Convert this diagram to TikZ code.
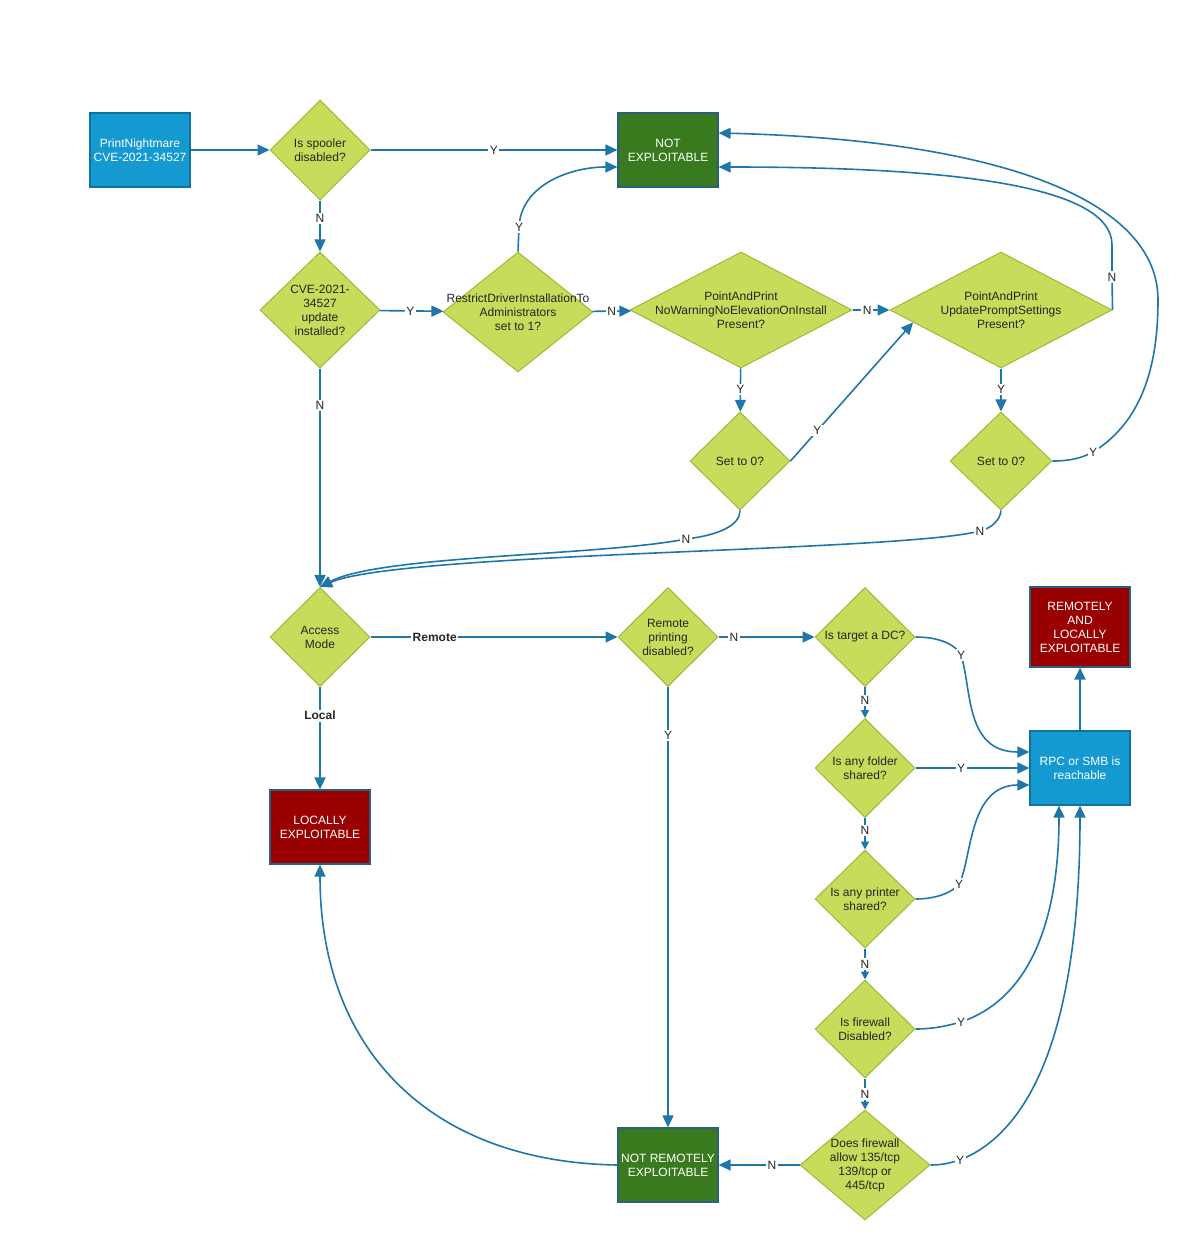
\documentclass[tikz,border=0pt]{standalone}
\usepackage{fontspec}
\setmainfont{Liberation Sans}
\usetikzlibrary{shapes.geometric,arrows.meta,calc}
\definecolor{ln}{HTML}{1F77A9}
\definecolor{bluebox}{HTML}{1499D0}
\definecolor{bluebd}{HTML}{10739E}
\definecolor{greenbox}{HTML}{3A7A1F}
\definecolor{redbox}{HTML}{990000}
\definecolor{boxbd}{HTML}{2B5F80}
\definecolor{dfill}{HTML}{C6DC5A}
\definecolor{dborder}{HTML}{9DBA3A}
\begin{document}
\begin{tikzpicture}[x=1pt,y=-1pt,
  conn/.style={draw=ln, line width=1.6pt, -{Triangle[length=12pt,width=11pt]}},
  sconn/.style={draw=ln, line width=1.6pt, -{Triangle[length=8pt,width=8pt]}},
  dia/.style={diamond, draw=dborder, fill=dfill, line width=1pt, inner sep=0pt},
  dtxt/.style={font=\fontsize{12}{14}\selectfont, align=center, text=black!85, inner sep=0pt},
  box/.style={rectangle, line width=1.2pt, minimum width=100pt, minimum height=74pt, text=white,
    font=\fontsize{12}{14}\selectfont, align=center, inner sep=1pt},
  lbl/.style={fill=white, inner sep=1.5pt, font=\fontsize{12}{14}\selectfont, text=black!85},
  blbl/.style={lbl, font=\fontsize{12}{14}\selectfont\bfseries},
]
\useasboundingbox (0,0) rectangle (1192,1241);

% boxes
\node[box, fill=bluebox, draw=bluebd] (pn) at (140,150) {PrintNightmare\\CVE-2021-34527};
\node[box, fill=greenbox, draw=boxbd] (ne) at (668,150) {NOT\\EXPLOITABLE};
\node[box, fill=redbox, draw=boxbd, minimum height=80pt] (rl) at (1080,627) {REMOTELY\\AND\\LOCALLY\\EXPLOITABLE};
\node[box, fill=bluebox, draw=bluebd] (rpc) at (1080,768) {RPC or SMB is\\reachable};
\node[box, fill=redbox, draw=boxbd] (le) at (320,827) {LOCALLY\\EXPLOITABLE};
\node[box, fill=greenbox, draw=boxbd] (nr) at (668,1165) {NOT REMOTELY\\EXPLOITABLE};

% diamonds
\node[dia, minimum width=100pt, minimum height=100pt] (sp) at (320,150) {};
\node[dtxt] (spt) at (sp) {Is spooler\\disabled?};
\node[dia, minimum width=120pt, minimum height=116pt] (cve) at (320,310) {};
\node[dtxt] (cvet) at (cve) {CVE-2021-\\34527\\update\\installed?};
\node[dia, minimum width=150pt, minimum height=120pt] (rd) at (518,312) {};
\node[dtxt] (rdt) at (rd) {RestrictDriverInstallationTo\\Administrators\\set to 1?};
\node[dia, minimum width=222pt, minimum height=116pt] (pp1) at (741,310) {};
\node[dtxt] (pp1t) at (pp1) {PointAndPrint\\NoWarningNoElevationOnInstall\\Present?};
\node[dia, minimum width=222pt, minimum height=116pt] (pp2) at (1001,310) {};
\node[dtxt] (pp2t) at (pp2) {PointAndPrint\\UpdatePromptSettings\\Present?};
\node[dia, minimum width=100pt, minimum height=98pt] (s0l) at (740,461) {};
\node[dtxt] (s0lt) at (s0l) {Set to 0?};
\node[dia, minimum width=102pt, minimum height=98pt] (s0r) at (1001,461) {};
\node[dtxt] (s0rt) at (s0r) {Set to 0?};
\node[dia, minimum width=100pt, minimum height=99pt] (am) at (320,637) {};
\node[dtxt] (amt) at (am) {Access\\Mode};
\node[dia, minimum width=100pt, minimum height=99pt] (rp) at (668,637) {};
\node[dtxt] (rpt) at (rp) {Remote\\printing\\disabled?};
\node[dia, minimum width=100pt, minimum height=99pt] (dc) at (865,637) {};
\node[dtxt] (dct) at (dc) {Is target a DC?};
\node[dia, minimum width=100pt, minimum height=99pt] (fo) at (865,768) {};
\node[dtxt] (fot) at (fo) {Is any folder\\shared?};
\node[dia, minimum width=100pt, minimum height=98pt] (pr) at (865,899) {};
\node[dtxt] (prt) at (pr) {Is any printer\\shared?};
\node[dia, minimum width=100pt, minimum height=98pt] (fw) at (865,1029) {};
\node[dtxt] (fwt) at (fw) {Is firewall\\Disabled?};
\node[dia, minimum width=130pt, minimum height=110pt] (al) at (865,1165) {};
\node[dtxt] (alt) at (al) {Does firewall\\allow 135/tcp\\139/tcp or\\445/tcp};

% connectors
\draw[conn] (pn) -- (sp);
\draw[conn] (sp) -- node[lbl, pos=0.5] {Y} (ne);
\draw[conn] (sp) -- node[lbl, pos=0.35] {N} (cve);
\draw[conn] (cve) -- node[lbl, pos=0.48] {Y} (rd);
\draw[conn] (rd.north) -- (519,227) node[lbl] {Y} .. controls (521,185) and (570,167) .. ($(ne.west)+(0,17)$);
\draw[conn] (rd) -- node[lbl, pos=0.49] {N} (pp1);
\draw[conn] (pp1) -- node[lbl, pos=0.4] {N} (pp2);
\draw[conn] (pp1) -- node[lbl, pos=0.48] {Y} (s0l);
\draw[conn] (pp2) -- node[lbl, pos=0.48] {Y} (s0r);
\draw[conn] (s0l.east) -- node[lbl, pos=0.22] {Y} (pp2.188);
\draw[conn] (pp2.east) -- (1112,277) node[lbl] {N} -- (1112,245)
  .. controls (1112,185) and (950,167) .. ($(ne.east)+(0,17)$);
\draw[conn] (s0r.east) .. controls (1070,461) and (1082,458) .. (1093,452) node[lbl] {Y}
  .. controls (1145,420) and (1158,360) .. (1158,300)
  .. controls (1158,200) and (1000,140) .. ($(ne.east)+(0,-17)$);
\draw[conn] (s0l.south) .. controls (740,525) and (720,535) .. (686,539) node[lbl] {N}
  .. controls (600,556) and (380,555) .. (am.north);
\draw[conn] (s0r.south) .. controls (1000,520) and (992,528) .. (980,531) node[lbl] {N}
  .. controls (900,552) and (400,552) .. (am.north);
\draw[conn] (cve) -- node[lbl, pos=0.17] {N} (am);
\draw[conn] (am) -- node[blbl, pos=0.26] {Remote} (rp);
\draw[conn] (am) -- node[blbl, pos=0.28] {Local} (le);
\draw[conn] (rp) -- node[lbl, pos=0.16] {N} (dc);
\draw[conn] (rp) -- node[lbl, pos=0.11] {Y} (nr);
\draw[conn] (dc.east) .. controls (940,637) and (956,645) .. (961,655) node[lbl] {Y}
  .. controls (972,690) and (965,752) .. ($(rpc.west)+(0,-16)$);
\draw[sconn] (dc) -- node[lbl, pos=0.44] {N} (fo);
\draw[conn] (fo) -- node[lbl, pos=0.4] {Y} (rpc);
\draw[sconn] (fo) -- node[lbl, pos=0.4] {N} (pr);
\draw[conn] (pr.east) .. controls (935,899) and (952,893) .. (959,884) node[lbl] {Y}
  .. controls (972,860) and (968,785) .. ($(rpc.west)+(0,17)$);
\draw[sconn] (pr) -- node[lbl, pos=0.5] {N} (fw);
\draw[conn] (fw.east) .. controls (935,1029) and (950,1025) .. (961,1022) node[lbl] {Y}
  .. controls (1040,995) and (1059,900) .. ($(rpc.south)+(-21,0)$);
\draw[sconn] (fw) -- node[lbl, pos=0.5] {N} (al);
\draw[conn] (al.east) .. controls (945,1165) and (952,1162) .. (960,1160) node[lbl] {Y}
  .. controls (1060,1120) and (1080,950) .. (rpc.south);
\draw[conn] (al) -- node[lbl, pos=0.34] {N} (nr);
\draw[conn] (nr.west) .. controls (430,1162) and (320,1050) .. (le.south);
\draw[conn] (rpc) -- (rl);
\end{tikzpicture}
\end{document}
